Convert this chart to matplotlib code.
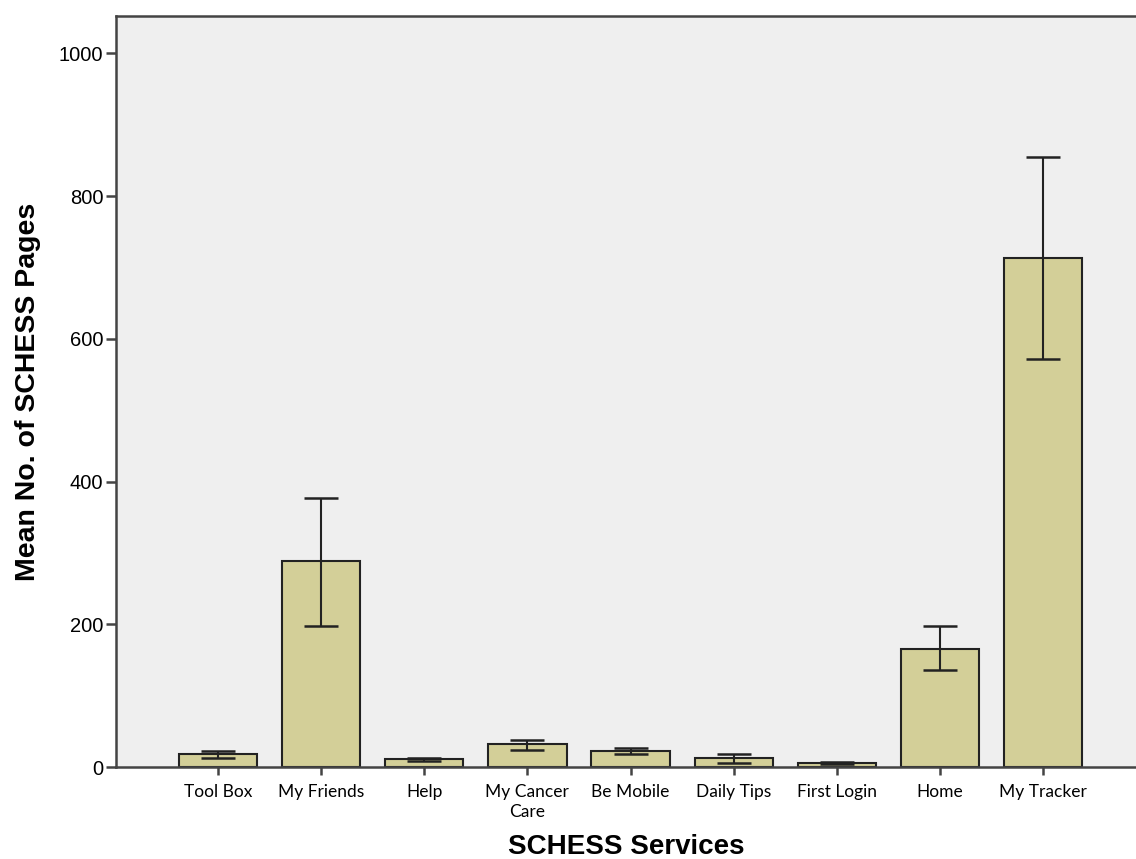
import matplotlib
matplotlib.use("Agg")
import matplotlib.pyplot as plt
import numpy as np

services = ["Tool Box", "My Friends", "Help", "My Cancer\nCare", "Be Mobile",
            "Daily Tips", "First Login", "Home", "My Tracker"]
mean_pages = [18, 289, 11, 32, 23, 13, 6, 166, 713]
ci_low = [13, 198, 9, 24, 19, 6, 4, 136, 572]
ci_high = [22, 377, 13, 38, 27, 19, 7, 198, 855]

yticks = [0, 200, 400, 600, 800, 1000]

fig = plt.figure(figsize=(11.36, 8.59), dpi=100)
ax = fig.add_axes([0.102, 0.107, 0.898, 0.874])
ax.set_facecolor("#EFEFEF")

x = np.arange(len(services))
means = np.array(mean_pages)
lower = means - np.array(ci_low)
upper = np.array(ci_high) - means

ax.bar(x, means, width=0.76, color="#D3CF98", edgecolor="#222222",
       linewidth=1.5, zorder=2)
ax.errorbar(x, means, yerr=[lower, upper], fmt="none", ecolor="#222222",
            elinewidth=1.5, capsize=12, capthick=1.8, zorder=3)

ax.set_xlim(-0.99, 8.9)
ax.set_ylim(0, 1052)
ax.set_yticks(yticks)
ax.set_yticklabels([str(v) for v in yticks], fontsize=14.5,
                   family="Liberation Sans")
ax.set_xticks(x)
ax.set_xticklabels(services, fontsize=12.5, family="Lato", linespacing=1.35)

for side in ["left", "top", "bottom"]:
    ax.spines[side].set_color("#444444")
    ax.spines[side].set_linewidth(1.8)
ax.spines["right"].set_visible(False)
ax.tick_params(axis="y", length=7, width=1.8, color="#444444", pad=2)
ax.tick_params(axis="x", length=6, width=1.8, color="#444444", pad=6)

ax.set_ylabel("Mean No. of SCHESS Pages", fontsize=20.5, fontweight="bold",
              family="Liberation Sans", labelpad=13)
ax.set_xlabel("SCHESS Services", fontsize=20, fontweight="bold",
              family="Liberation Sans", labelpad=10)

fig.savefig("out.png", dpi=100)
